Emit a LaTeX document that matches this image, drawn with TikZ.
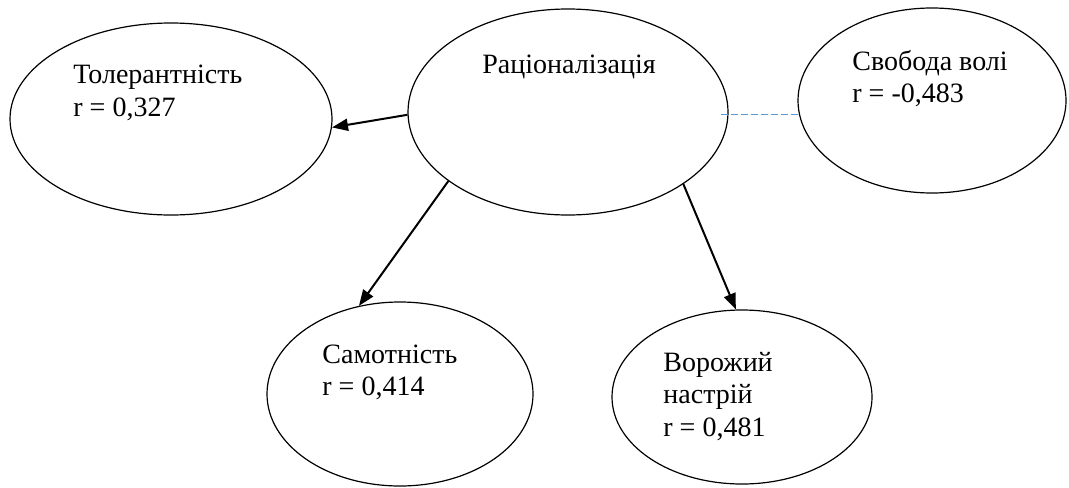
\documentclass[tikz,border=0pt]{standalone}
\usepackage{fontspec}
\setmainfont{Liberation Serif}
\usetikzlibrary{shapes.geometric,arrows.meta}
\definecolor{dashblue}{RGB}{91,155,213}
\tikzset{
  ell/.style={ellipse, draw=black, line width=0.6pt, inner sep=0pt},
  lbl/.style={anchor=base west, inner sep=0pt, font=\fontsize{14pt}{16pt}\selectfont},
  arr/.style={line width=1pt, -{Triangle[length=8pt,width=6pt]}},
  dashline/.style={draw=dashblue, line width=0.5pt, dash pattern=on 3.5pt off 1.5pt}
}
\begin{document}
\begin{tikzpicture}[x=0.5pt,y=-0.5pt]
\useasboundingbox (0,0) rectangle (1069,487);
% ellipses
\node[ell, minimum width=161pt, minimum height=96pt] (tol) at (171,119) {};
\node[ell, minimum width=160pt, minimum height=103pt] (rac) at (568,112) {};
\node[ell, minimum width=134pt, minimum height=92.5pt] (svo) at (932,100.5) {};
\node[ell, minimum width=133pt, minimum height=92pt] (sam) at (400,394) {};
\node[ell, minimum width=130pt, minimum height=87pt] (vor) at (742,397) {};
% texts
\node[lbl] (tol1) at (73,83) {Толерантність};
\node[lbl] (tol2) at (73,116) {r = 0,327};
\node[lbl] (rac1) at (482,73) {Раціоналізація};
\node[lbl] (svo1) at (852,70) {Свобода волі};
\node[lbl] (svo2) at (852,102) {r = -0,483};
\node[lbl] (sam1) at (322,363) {Самотність};
\node[lbl] (sam2) at (322,395) {r = 0,414};
\node[lbl] (vor1) at (663,371) {Ворожий};
\node[lbl] (vor2) at (663,403) {настрій};
\node[lbl] (vor3) at (663,436) {r = 0,481};
% connectors
\draw[arr] (rac.181) -- (tol.-3.5);
\draw[arr] (rac.210) -- (sam.115);
\draw[arr] (rac.-32) -- (vor.94.5);
\draw[dashline] ([xshift=-4pt]svo.186 -| rac.east) -- (svo.186);
\end{tikzpicture}
\end{document}
